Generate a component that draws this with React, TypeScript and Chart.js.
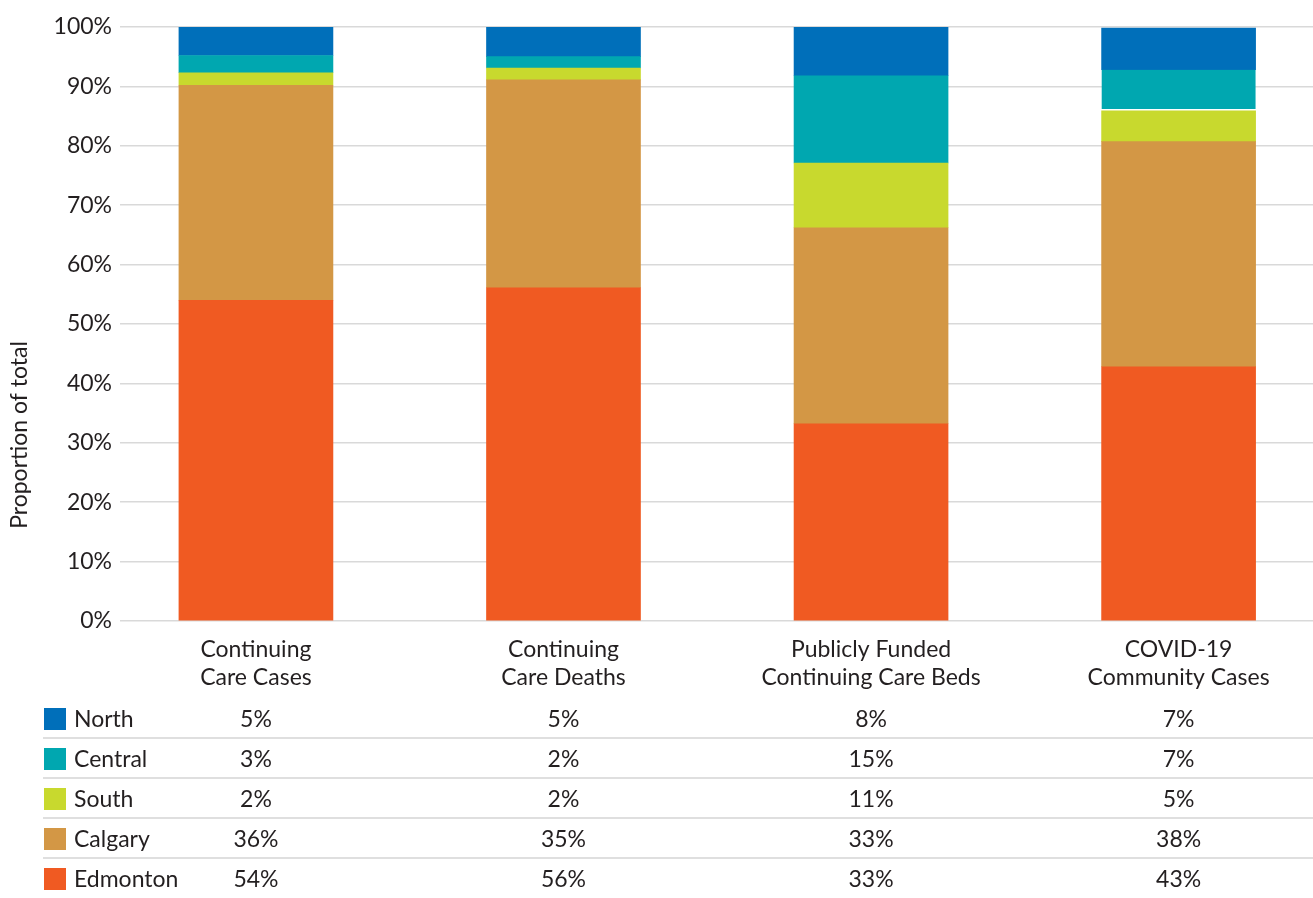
import React, { useEffect, useRef } from "react";
import { Chart, registerables } from "chart.js";

Chart.register(...registerables);

const categories: string[][] = [
  ["Continuing", "Care Cases"],
  ["Continuing", "Care Deaths"],
  ["Publicly Funded", "Continuing Care Beds"],
  ["COVID-19", "Community Cases"],
];

const regions = ["North", "Central", "South", "Calgary", "Edmonton"];
const regionColors = ["#006FBA", "#00A7B0", "#C8D92E", "#D39745", "#F05A22"];

// values plotted (per category)
const north = [4.9, 5.0, 8.2, 7.0];
const central = [2.9, 1.9, 14.7, 6.9];
const south = [2.1, 2.0, 10.9, 5.2];
const calgary = [36.2, 35.0, 33.0, 37.9];
const edmonton = [54.0, 56.1, 33.2, 42.8];

// table labels
const northLabels = ["5%", "5%", "8%", "7%"];
const centralLabels = ["3%", "2%", "15%", "7%"];
const southLabels = ["2%", "2%", "11%", "5%"];
const calgaryLabels = ["36%", "35%", "33%", "38%"];
const edmontonLabels = ["54%", "56%", "33%", "43%"];

const yTicks = [0, 10, 20, 30, 40, 50, 60, 70, 80, 90, 100];

const FONT = "Lato, 'Open Sans', sans-serif";
const FS = 23;
const TEXT = "#231f20";

export default function App() {
  const ref = useRef<HTMLCanvasElement | null>(null);

  useEffect(() => {
    const canvas = ref.current;
    if (!canvas) return;
    const seriesList = [north, central, south, calgary, edmonton];
    const tableLabels = [northLabels, centralLabels, southLabels, calgaryLabels, edmontonLabels];

    const datasets = [4, 3, 2, 1, 0].map((k) => ({
      label: regions[k],
      data: seriesList[k].map((v, i) => ({ x: i, y: v })),
      backgroundColor: regionColors[k],
      borderColor: "#ffffff",
      borderSkipped: false,
      borderWidth: (c: any) =>
        k === 1 && c.dataIndex === 3 ? { top: 0, left: 0, right: 0, bottom: 2 } : 0,
      barThickness: 154,
    }));

    const tablePlugin = {
      id: "tablePlugin",
      afterDraw(chart: any) {
        const ctx = chart.ctx;
        const xs = chart.scales.x;
        ctx.save();
        // y axis title
        ctx.save();
        ctx.translate(20, 435);
        ctx.rotate(-Math.PI / 2);
        ctx.font = `${FS}px ${FONT}`;
        ctx.fillStyle = TEXT;
        ctx.textAlign = "center";
        ctx.textBaseline = "middle";
        ctx.fillText("Proportion of total", 0, 0);
        ctx.restore();

        const rowY = [719, 759, 799, 839, 879];
        const sepY = [738, 778, 818, 858];
        ctx.strokeStyle = "#d4d4d4";
        ctx.lineWidth = 1.5;
        sepY.forEach((y) => {
          ctx.beginPath();
          ctx.moveTo(43, y);
          ctx.lineTo(1313, y);
          ctx.stroke();
        });
        ctx.font = `${FS}px ${FONT}`;
        ctx.textBaseline = "middle";
        regions.forEach((r, k) => {
          const y = rowY[k];
          ctx.fillStyle = regionColors[k];
          ctx.fillRect(44, y - 11, 22, 22);
          ctx.fillStyle = TEXT;
          ctx.textAlign = "left";
          ctx.fillText(r, 74, y + 1);
          ctx.textAlign = "center";
          tableLabels[k].forEach((lab, i) => {
            ctx.fillText(lab, xs.getPixelForValue(i), y + 1);
          });
        });
        ctx.restore();
      },
    };

    const chart = new Chart(canvas, {
      type: "bar",
      data: { datasets },
      options: {
        animation: false,
        responsive: false,
        maintainAspectRatio: false,
        layout: { padding: { top: 27, right: 0, left: 0, bottom: 0 } },
        plugins: {
          legend: { display: false },
          tooltip: { enabled: false },
        },
        scales: {
          x: {
            type: "linear",
            stacked: true,
            offset: false,
            min: -0.442,
            max: 3.437,
            grid: { display: false, drawTicks: false, offset: false },
            border: { display: false },
            ticks: {
              stepSize: 1,
              includeBounds: false,
              autoSkip: false,
              maxRotation: 0,
              padding: 15,
              color: TEXT,
              font: { family: FONT, size: FS, lineHeight: 1.2 },
              callback: (v: any) => {
                const i = Math.round(Number(v));
                if (Math.abs(Number(v) - i) > 1e-6) return "";
                return categories[i] || "";
              },
            },
            afterFit: (s: any) => {
              s.height = 277;
            },
          },
          y: {
            stacked: true,
            min: 0,
            max: 100,
            afterBuildTicks: (s: any) => {
              s.ticks = yTicks.map((v) => ({ value: v }));
            },
            grid: { color: "#d9d9d9", lineWidth: 1.5, drawTicks: false },
            border: { display: false },
            ticks: {
              padding: 8,
              color: TEXT,
              font: { family: FONT, size: FS },
              callback: (v: any) => `${v}%`,
            },
            afterFit: (s: any) => {
              s.width = 120;
            },
          },
        },
      },
      plugins: [tablePlugin],
    } as any);

    return () => chart.destroy();
  }, []);

  return (
    <div style={{ position: "absolute", left: 0, top: 0, width: 1313, height: 898, background: "#fff" }}>
      <canvas ref={ref} width={1313} height={898} style={{ display: "block" }} />
    </div>
  );
}
